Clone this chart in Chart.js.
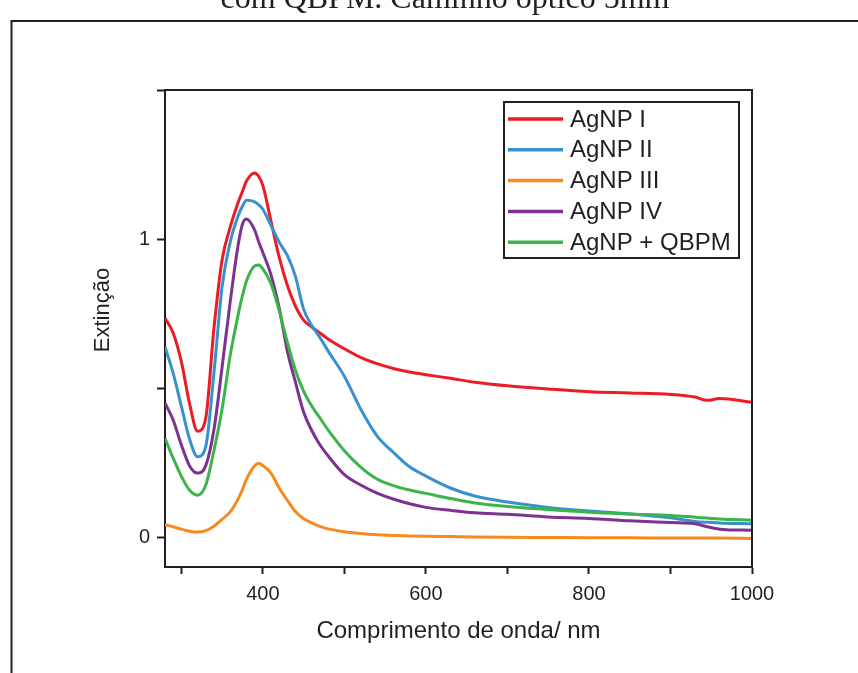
<!DOCTYPE html>
<html>
<head>
<meta charset="utf-8">
<script src="https://cdn.jsdelivr.net/npm/chart.js@4.4.1/dist/chart.umd.min.js"></script>
<style>
html, body { margin: 0; padding: 0; background: #fff; }
#wrap { width: 858px; height: 673px; position: relative; }
</style>
</head>
<body>
<div id="wrap"><canvas id="c" width="858" height="673"></canvas></div>
<script>
// Wavelength grid (nm)
const wavelengths = [280,290,300,310,320,330,340,350,360,370,375,380,390,395,400,410,420,430,440,450,460,470,480,500,520,540,560,580,600,630,660,700,750,800,850,900,930,945,960,1000];

// Extinction spectra
const agnpI = [0.735,0.685,0.59,0.45,0.355,0.40,0.70,0.93,1.04,1.125,1.16,1.195,1.222,1.21,1.18,1.06,0.94,0.845,0.775,0.728,0.705,0.685,0.665,0.632,0.603,0.582,0.566,0.554,0.545,0.533,0.52,0.508,0.497,0.488,0.484,0.479,0.47,0.459,0.465,0.453];
const agnpII = [0.638,0.55,0.44,0.33,0.27,0.305,0.55,0.84,0.99,1.08,1.11,1.13,1.125,1.115,1.10,1.045,0.99,0.945,0.875,0.765,0.71,0.67,0.625,0.54,0.43,0.34,0.285,0.236,0.205,0.165,0.138,0.118,0.100,0.088,0.078,0.065,0.053,0.050,0.048,0.045];
const agnpIII = [0.042,0.035,0.027,0.02,0.017,0.022,0.037,0.06,0.085,0.13,0.16,0.195,0.24,0.248,0.24,0.215,0.165,0.124,0.086,0.062,0.048,0.036,0.028,0.018,0.012,0.008,0.006,0.004,0.003,0.002,0.001,0.0,-0.001,-0.002,-0.002,-0.003,-0.003,-0.003,-0.003,-0.004];
const agnpIV = [0.45,0.393,0.31,0.24,0.215,0.24,0.36,0.57,0.79,0.985,1.05,1.067,1.03,0.99,0.955,0.88,0.77,0.625,0.52,0.42,0.358,0.31,0.273,0.21,0.175,0.148,0.128,0.112,0.10,0.09,0.082,0.077,0.068,0.063,0.055,0.049,0.045,0.035,0.027,0.023];
const agnpQBPM = [0.332,0.265,0.205,0.158,0.141,0.175,0.29,0.43,0.61,0.75,0.81,0.86,0.91,0.913,0.90,0.85,0.76,0.655,0.56,0.49,0.44,0.40,0.36,0.29,0.235,0.195,0.173,0.158,0.147,0.13,0.115,0.103,0.093,0.084,0.078,0.073,0.067,0.064,0.061,0.057];

const seriesNames = ['AgNP I', 'AgNP II', 'AgNP III', 'AgNP IV', 'AgNP + QBPM'];
const seriesValues = [agnpI, agnpII, agnpIII, agnpIV, agnpQBPM];
const seriesColors = ['#ec1c24', '#3990cf', '#f7891f', '#7d3190', '#3bb44a'];

// Axis ticks
const xTickValues = [300, 400, 500, 600, 700, 800, 900, 1000];
const xTickLabels = [400, 600, 800, 1000];
const yTickValues = [0, 0.5, 1, 1.5];
const yTickLabels = [0, 1];

const INK = '#231f20';
const SANS = "'Liberation Sans', Arial, sans-serif";

const datasets = seriesNames.map((name, i) => ({
  label: name,
  data: wavelengths.map((w, k) => ({ x: w, y: seriesValues[i][k] })),
  borderColor: seriesColors[i],
  backgroundColor: seriesColors[i],
  borderWidth: 3,
  pointRadius: 0,
  fill: false,
  cubicInterpolationMode: 'monotone',
  order: seriesNames.length - i
}));

// Outer page frame and the caption line above it
const framePlugin = {
  id: 'frame',
  beforeDraw(chart) {
    const ctx = chart.ctx;
    ctx.save();
    ctx.fillStyle = '#fff';
    ctx.fillRect(0, 0, chart.width, chart.height);
    ctx.strokeStyle = INK;
    ctx.lineWidth = 2;
    ctx.beginPath();
    ctx.moveTo(11.5, chart.height);
    ctx.lineTo(11.5, 21);
    ctx.lineTo(chart.width, 21);
    ctx.stroke();
    ctx.fillStyle = INK;
    ctx.font = "32px 'Liberation Serif', 'Times New Roman', serif";
    ctx.textAlign = 'center';
    ctx.textBaseline = 'alphabetic';
    ctx.fillText('com QBPM. Caminho óptico 5mm', 445, 8);
    ctx.restore();
  }
};

// Box around the plot, y title and legend
const boxPlugin = {
  id: 'plotBox',
  afterDraw(chart) {
    const ctx = chart.ctx;
    const a = chart.chartArea;
    ctx.save();
    ctx.strokeStyle = INK;
    ctx.lineWidth = 2;
    ctx.beginPath();
    ctx.moveTo(a.left, a.top);
    ctx.lineTo(a.right, a.top);
    ctx.lineTo(a.right, a.bottom);
    ctx.stroke();

    // y axis title
    ctx.fillStyle = INK;
    ctx.font = '22px ' + SANS;
    ctx.textAlign = 'center';
    ctx.textBaseline = 'middle';
    ctx.translate(103, 310);
    ctx.rotate(-Math.PI / 2);
    ctx.fillText('Extinção', 0, 0);
    ctx.restore();

    // legend
    ctx.save();
    ctx.strokeStyle = INK;
    ctx.lineWidth = 2;
    ctx.strokeRect(504, 102, 235, 156);
    ctx.font = '24px ' + SANS;
    ctx.textAlign = 'left';
    ctx.textBaseline = 'middle';
    chart.data.datasets.forEach((ds, i) => {
      const y = 119 + i * 30.8;
      ctx.strokeStyle = ds.borderColor;
      ctx.lineWidth = 3.5;
      ctx.beginPath();
      ctx.moveTo(508, y);
      ctx.lineTo(563, y);
      ctx.stroke();
      ctx.fillStyle = INK;
      ctx.fillText(ds.label, 570, y + 1);
    });
    ctx.restore();
  }
};

new Chart(document.getElementById('c'), {
  type: 'line',
  data: { datasets },
  options: {
    responsive: false,
    animation: false,
    devicePixelRatio: 1,
    layout: { padding: { left: 0, top: 90, right: 106, bottom: 0 } },
    plugins: { legend: { display: false }, tooltip: { enabled: false }, title: { display: false } },
    scales: {
      x: {
        type: 'linear',
        min: 280,
        max: 1000,
        afterBuildTicks: s => { s.ticks = xTickValues.map(v => ({ value: v })); },
        afterFit: s => { s.height = 106; },
        ticks: {
          autoSkip: false,
          maxRotation: 0,
          padding: 8,
          color: INK,
          font: { family: SANS, size: 20 },
          callback: v => (xTickLabels.includes(v) ? String(v) : '')
        },
        grid: { drawOnChartArea: false, drawTicks: true, tickLength: 7, tickWidth: 2, tickColor: INK },
        border: { display: true, width: 2, color: INK },
        title: {
          display: true,
          text: 'Comprimento de onda/ nm',
          color: INK,
          font: { family: SANS, size: 24 },
          padding: { top: 0, bottom: 27 }
        }
      },
      y: {
        type: 'linear',
        min: -0.1,
        max: 1.5,
        afterBuildTicks: s => { s.ticks = yTickValues.map(v => ({ value: v })); },
        afterFit: s => { s.width = 165; },
        ticks: {
          autoSkip: false,
          padding: 7,
          color: INK,
          font: { family: SANS, size: 20 },
          callback: v => (yTickLabels.includes(v) ? String(v) : '')
        },
        grid: { drawOnChartArea: false, drawTicks: true, tickLength: 8, tickWidth: 2, tickColor: INK },
        border: { display: true, width: 2, color: INK }
      }
    }
  },
  plugins: [framePlugin, boxPlugin]
});
</script>
</body>
</html>
